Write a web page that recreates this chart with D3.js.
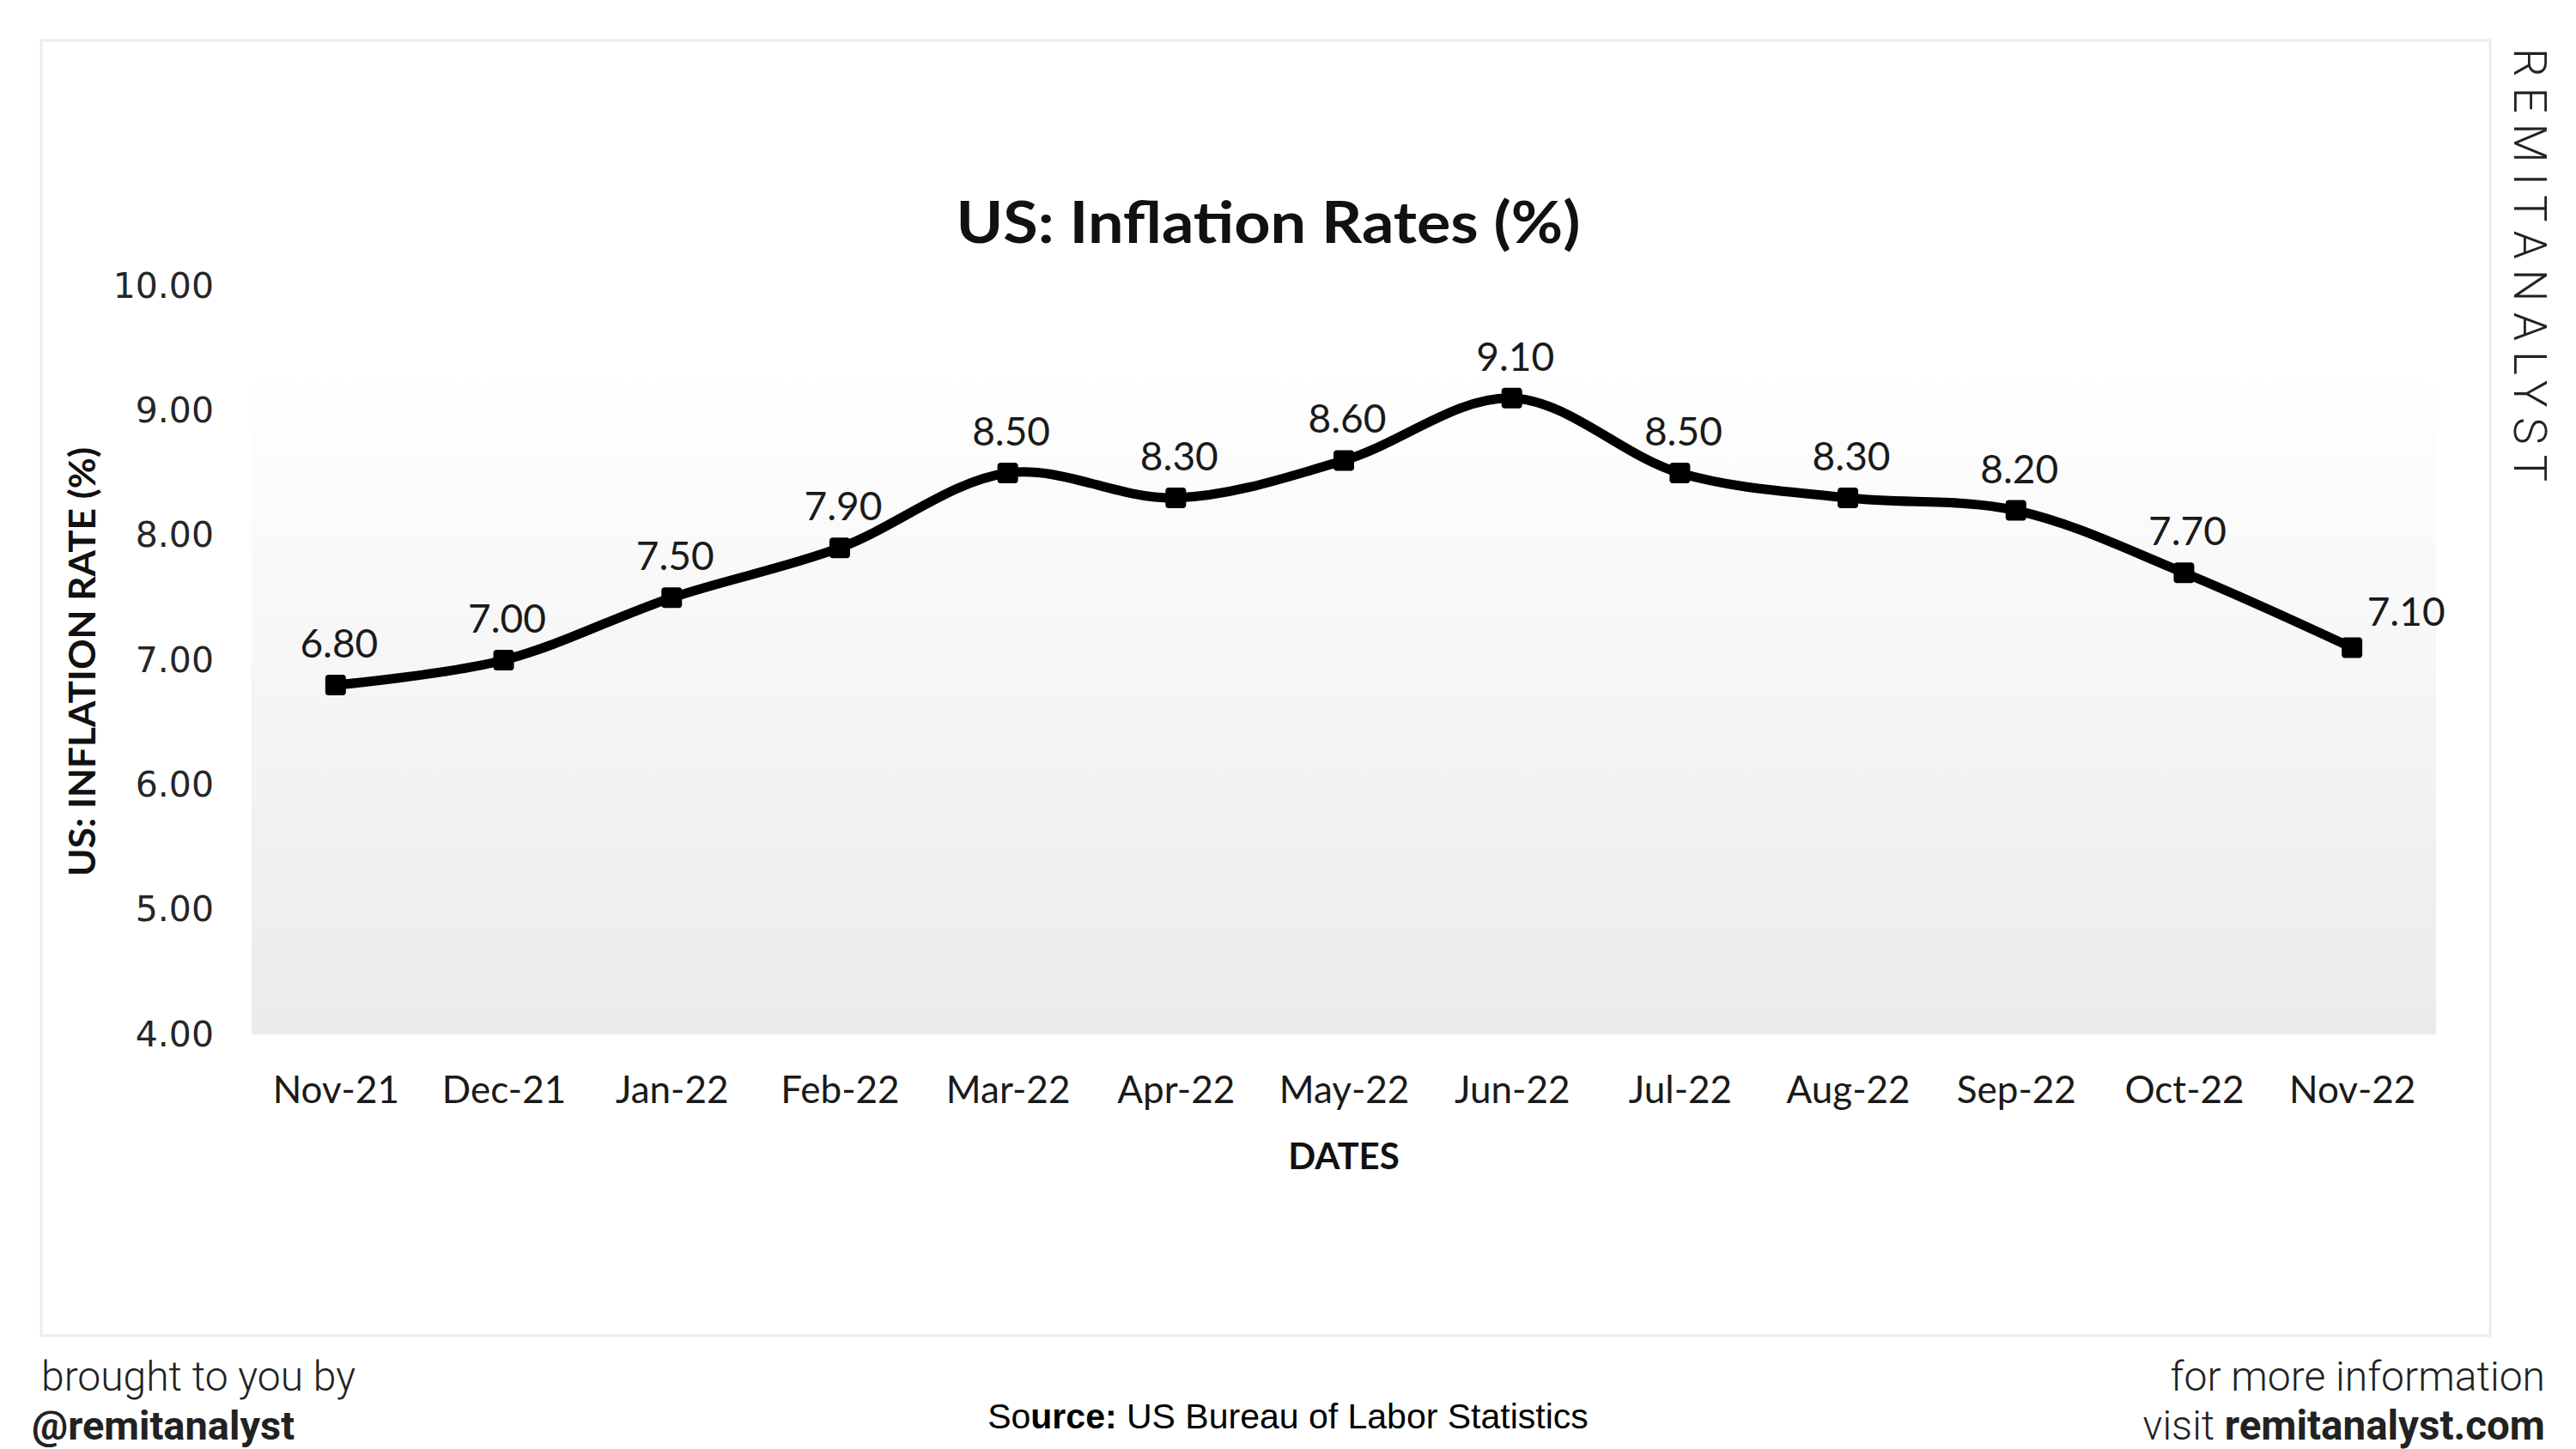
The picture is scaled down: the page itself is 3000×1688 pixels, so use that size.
<!DOCTYPE html>
<html>
<head>
<meta charset="utf-8">
<script src="https://cdn.jsdelivr.net/npm/d3@7"></script>
<style>
  html, body { margin: 0; padding: 0; background: #ffffff; }
  svg { display: block; }
</style>
</head>
<body>
<svg id="chart" width="3000" height="1688"></svg>
<script>
// ---- data ----
const categories = ["Nov-21","Dec-21","Jan-22","Feb-22","Mar-22","Apr-22","May-22","Jun-22","Jul-22","Aug-22","Sep-22","Oct-22","Nov-22"];
const inflation = [6.8, 7.0, 7.5, 7.9, 8.5, 8.3, 8.6, 9.1, 8.5, 8.3, 8.2, 7.7, 7.1];
const yTicks = [4, 5, 6, 7, 8, 9, 10];
const titleText = "US: Inflation Rates (%)";
const yTitle = "US: INFLATION RATE (%)";
const xTitle = "DATES";

// ---- layout ----
const plot = { left: 293, right: 2837, top: 333, bottom: 1205 };
const svg = d3.select("#chart");

// outer panel
svg.append("rect")
  .attr("x", 48).attr("y", 47).attr("width", 2852).attr("height", 1509)
  .attr("fill", "#ffffff").attr("stroke", "#ececec").attr("stroke-width", 3);

// gradient plot background
const defs = svg.append("defs");
const grad = defs.append("linearGradient").attr("id", "bg").attr("x1", 0).attr("y1", 0).attr("x2", 0).attr("y2", 1);
grad.append("stop").attr("offset", "0%").attr("stop-color", "#ffffff");
grad.append("stop").attr("offset", "100%").attr("stop-color", "#ebebeb");

const x = d3.scalePoint().domain(categories).range([plot.left, plot.right]).padding(0.5);
const y = d3.scaleLinear().domain([4, 10]).range([plot.bottom, plot.top]);

svg.append("rect")
  .attr("x", plot.left).attr("y", y(9.3))
  .attr("width", plot.right - plot.left).attr("height", plot.bottom - y(9.3))
  .attr("fill", "url(#bg)");

// title
svg.append("text")
  .attr("x", 1477).attr("y", 283)
  .attr("text-anchor", "middle")
  .attr("font-family", "Lato").attr("font-weight", 700).attr("font-size", 66)
  .attr("fill", "#111")
  .attr("textLength", 727).attr("lengthAdjust", "spacingAndGlyphs")
  .text(titleText);

// y axis (labels only)
const yAxis = d3.axisLeft(y).tickValues(yTicks).tickFormat(d3.format(".2f")).tickSize(0).tickPadding(0);
const yg = svg.append("g").attr("transform", "translate(249,0)").call(yAxis);
yg.select(".domain").remove();
yg.selectAll("text")
  .attr("font-family", "DejaVu Sans").attr("font-size", 41).attr("fill", "#262626");

// x axis (labels only)
const xAxis = d3.axisBottom(x).tickSize(0).tickPadding(0);
const xg = svg.append("g").attr("transform", "translate(0,1285)").call(xAxis);
xg.select(".domain").remove();
xg.selectAll("text")
  .attr("dy", 0)
  .attr("font-family", "Lato").attr("font-size", 44).attr("fill", "#1a1a1a");

// axis titles
svg.append("text")
  .attr("transform", "translate(111,771) rotate(-90)")
  .attr("text-anchor", "middle")
  .attr("font-family", "Lato").attr("font-weight", 700).attr("font-size", 42)
  .attr("fill", "#111")
  .attr("textLength", 500).attr("lengthAdjust", "spacingAndGlyphs")
  .text(yTitle);

svg.append("text")
  .attr("x", 1565).attr("y", 1362)
  .attr("text-anchor", "middle")
  .attr("font-family", "Lato").attr("font-weight", 700).attr("font-size", 42)
  .attr("fill", "#111")
  .text(xTitle);

// line
const line = d3.line()
  .x((d, i) => x(categories[i]))
  .y(d => y(d))
  .curve(d3.curveCatmullRom.alpha(0.5));

svg.append("path")
  .datum(inflation)
  .attr("d", line)
  .attr("fill", "none")
  .attr("stroke", "#000")
  .attr("stroke-width", 11)
  .attr("stroke-linejoin", "round")
  .attr("stroke-linecap", "round");

// markers
const ms = 24;
svg.append("g").selectAll("rect")
  .data(inflation)
  .join("rect")
  .attr("x", (d, i) => x(categories[i]) - ms / 2)
  .attr("y", d => y(d) - ms / 2)
  .attr("width", ms).attr("height", ms)
  .attr("rx", 4).attr("ry", 4)
  .attr("fill", "#000");

// data labels
const last = inflation.length - 1;
svg.append("g").selectAll("text")
  .data(inflation)
  .join("text")
  .attr("x", (d, i) => x(categories[i]) + (i === last ? 63 : 4))
  .attr("y", (d, i) => y(d) - (i === last ? 25 : 32))
  .attr("text-anchor", "middle")
  .attr("font-family", "Lato").attr("font-size", 46).attr("fill", "#1a1a1a")
  .text(d => d3.format(".2f")(d));

// watermark
svg.append("text")
  .attr("transform", "translate(2928,56) rotate(90)")
  .attr("font-family", "Roboto").attr("font-weight", 300).attr("font-size", 53)
  .attr("letter-spacing", 12)
  .attr("fill", "#222")
  .text("REMITANALYST");

// footer
const fl = svg.append("g").attr("font-family", "Roboto").attr("fill", "#222");
fl.append("text").attr("x", 48).attr("y", 1620)
  .attr("font-weight", 300).attr("font-size", 48).text("brought to you by");
fl.append("text").attr("x", 37).attr("y", 1677)
  .attr("font-weight", 700).attr("font-size", 47).text("@remitanalyst");

const fr = svg.append("g").attr("font-family", "Roboto").attr("fill", "#222").attr("text-anchor", "end");
fr.append("text").attr("x", 2964).attr("y", 1620)
  .attr("font-weight", 300).attr("font-size", 48).text("for more information");
const v = fr.append("text").attr("x", 2964).attr("y", 1677).attr("font-size", 47.5);
v.append("tspan").attr("font-weight", 300).text("visit ");
v.append("tspan").attr("font-weight", 700).text("remitanalyst.com");

const src = svg.append("text").attr("x", 1500).attr("y", 1664)
  .attr("text-anchor", "middle")
  .attr("font-family", "Liberation Sans").attr("font-size", 41).attr("fill", "#000");
src.append("tspan").text("So");
src.append("tspan").attr("font-weight", 700).text("urce:");
src.append("tspan").text(" US Bureau of Labor Statistics");
</script>
</body>
</html>
